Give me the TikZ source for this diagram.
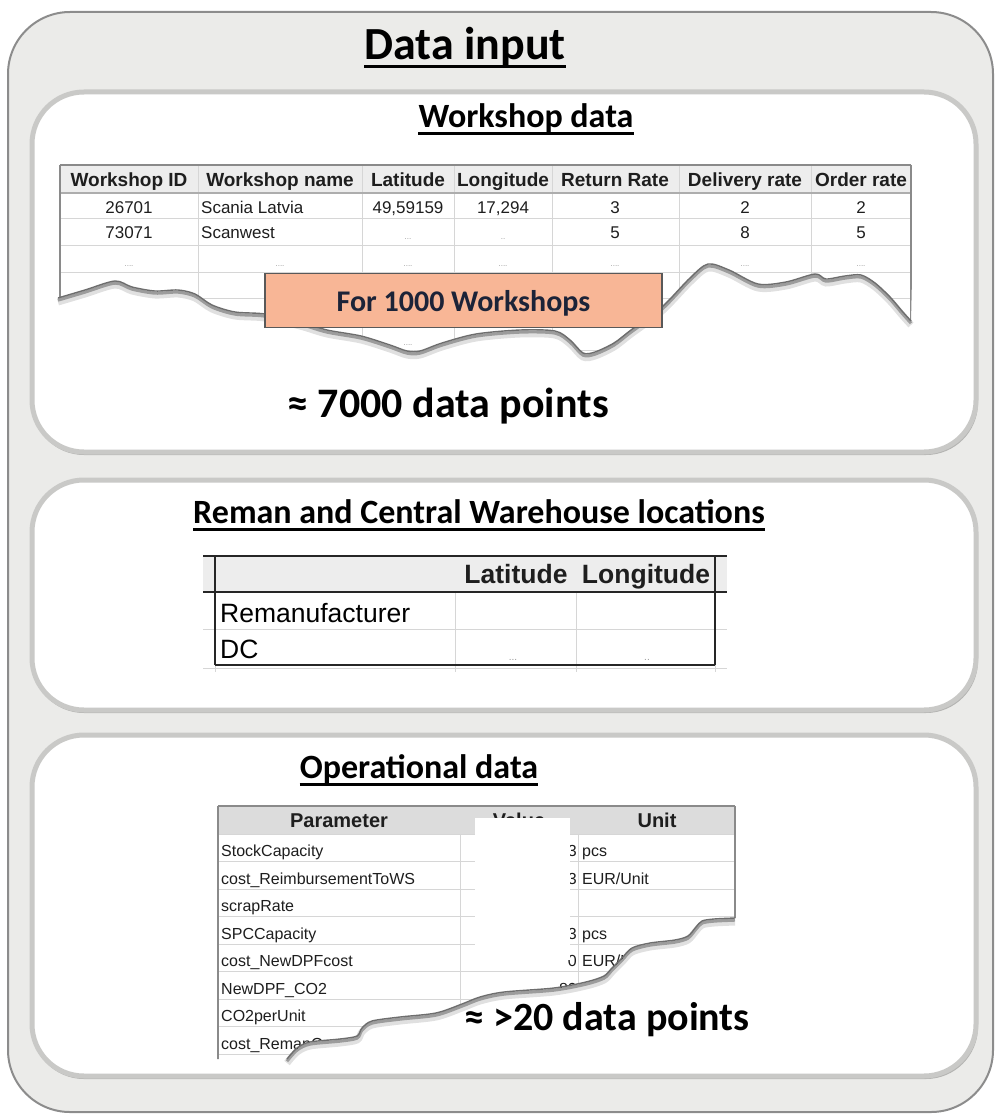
\documentclass[tikz,border=0pt]{standalone}
\usepackage{fontspec}
\setmainfont{Carlito}
\newfontfamily\arialf{Liberation Sans}
\usetikzlibrary{calc}

\definecolor{panelfill}{HTML}{EBEBE9}
\definecolor{panelrim}{HTML}{8C8C8C}
\definecolor{cardrim}{HTML}{C9C9C7}
\definecolor{cardshade}{HTML}{B4B4B2}
\definecolor{gridc}{HTML}{D6D6D6}
\definecolor{rulec}{HTML}{8A8A8A}
\definecolor{headA}{HTML}{EDEDED}
\definecolor{headC}{HTML}{DCDCDC}
\definecolor{salmon}{HTML}{F8B696}
\definecolor{inkblue}{HTML}{1C2338}
\definecolor{dotc}{HTML}{9A9A9A}
\definecolor{tearc}{HTML}{6E6E6E}
\definecolor{txt}{HTML}{1E1E1E}

% torn edge of the workshop table
\newcommand\tearA{plot[smooth,tension=0.5] coordinates {
 (58,298) (85,290) (115,281) (132,287) (155,291) (178,290) (195,294)
 (212,305) (235,312) (265,314) (300,322) (327,330) (361,336) (390,345)
 (407,351) (420,351) (442,343) (476,334) (520,330) (555,331) (570,340)
 (583,353) (595,352) (614,343) (631,330) (662,307) (690,278) (708,264)
 (729,270) (758,284) (786,282) (815,274) (826,279) (845,276) (861,275)
 (875,283) (890,297) (902,311) (911,321)}}
% torn edge of the operational table
\newcommand\tearC{plot[smooth,tension=0.5] coordinates {
 (287,1059) (297,1048) (310,1042) (340,1039) (357,1036) (362,1028)
 (372,1021) (400,1017) (436,1013) (462,1004) (480,997) (504,992)
 (554,988) (586,982) (604,976) (612,968) (622,958) (632,948) (650,943)
 (675,940) (688,936) (696,927) (702,921) (714,919) (735,918)}}

\begin{document}
\begin{tikzpicture}[x=1pt,y=-1pt,
  outerpanel/.style={draw=panelrim, line width=2, fill=panelfill, rounded corners=62},
  cardshadow/.style={fill=cardshade, rounded corners=52},
  card/.style={draw=cardrim, line width=5, fill=white, rounded corners=52},
  maintitle/.style={font=\fontsize{46}{54}\selectfont\bfseries, inner sep=0, anchor=base},
  subtitle/.style={font=\fontsize{34}{40}\selectfont\bfseries, inner sep=0, anchor=base},
  bigcount/.style={font=\fontsize{42}{50}\selectfont\bfseries, inner sep=0, anchor=base},
  uline/.style={line width=3},
  grid/.style={draw=gridc, line width=1},
  edge/.style={draw=rulec, line width=1.4},
  heavy/.style={draw=black!85, line width=2},
  thA/.style={font=\arialf\bfseries\fontsize{19}{22}\selectfont, text=txt, inner sep=0, anchor=base},
  tdA/.style={font=\arialf\fontsize{17}{20}\selectfont, text=txt, inner sep=0, anchor=base},
  dots/.style={font=\arialf\fontsize{8}{10}\selectfont, text=dotc, inner sep=0, anchor=base},
  thB/.style={font=\arialf\bfseries\fontsize{26.5}{30}\selectfont, text=txt, inner sep=0, anchor=base},
  tdB/.style={font=\arialf\fontsize{26.5}{30}\selectfont, text=black, inner sep=0, anchor=base west},
  thC/.style={font=\arialf\bfseries\fontsize{20}{24}\selectfont, text=txt, inner sep=0, anchor=base},
  tdC/.style={font=\arialf\fontsize{16}{19}\selectfont, text=txt, inner sep=0, anchor=base west},
  tdCr/.style={font=\arialf\fontsize{16}{19}\selectfont, text=txt, inner sep=0, anchor=base east},
  tearshade/.style={black, opacity=0.12, line width=7},
  tearshadeb/.style={black, opacity=0.3, line width=3},
  tearline/.style={tearc, line width=1.4},
]
\useasboundingbox (0,0) rectangle (1000,1115);

% ---------- outer panel ----------
\draw[outerpanel] (8,12) rectangle (993,1112);
\node[maintitle] (title) at (465,60) {Data input};
\draw[uline] ($(title.base west)+(0,7)$) -- ($(title.base east)+(0,7)$);

% ---------- three cards ----------
\fill[cardshadow] (32,95) rectangle (978,455);
\draw[card] (32,92) rectangle (976,452);
\fill[cardshadow] (32,483) rectangle (978,713);
\draw[card] (32,480) rectangle (976,710);
\fill[cardshadow] (32,738) rectangle (978,1079);
\draw[card] (32,735) rectangle (976,1076);

% ---------- workshop data ----------
\node[subtitle] (ws) at (526,128) {Workshop data};
\draw[uline] ($(ws.base west)+(0,6)$) -- ($(ws.base east)+(0,6)$);

\begin{scope}
  \clip \tearA -- (915,150) -- (54,150) -- cycle;
  \fill[headA] (60,165) rectangle (911,193);
  \foreach \yy in {219,245.5,272,298,324,350,376} \draw[grid] (60,\yy) -- (911,\yy);
  \foreach \xx in {198,362,454,552,679,811} \draw[grid] (\xx,165) -- (\xx,400);
  \draw[edge] (60,165) -- (911,165);
  \draw[draw=rulec!70, line width=1.4] (60,193) -- (911,193);
  \draw[edge] (60,165) -- (60,400);
  \draw[edge] (911,165) -- (911,400);
  % header
  \node[thA] (h1) at (129,187) {Workshop ID};
  \node[thA] (h2) at (280,187) {Workshop name};
  \node[thA] (h3) at (408,187) {Latitude};
  \node[thA] (h4) at (503,187) {Longitude};
  \node[thA] (h5) at (615,187) {Return Rate};
  \node[thA] (h6) at (745,187) {Delivery rate};
  \node[thA] (h7) at (861,187) {Order rate};
  % first row
  \node[tdA] (a1) at (129,214) {26701};
  \node[tdA, anchor=base west] (a2) at (201,214) {Scania Latvia};
  \node[tdA] (a3) at (408,214) {49,59159};
  \node[tdA] (a4) at (503,214) {17,294};
  \node[tdA] (a5) at (615,214) {3};
  \node[tdA] (a6) at (745,214) {2};
  \node[tdA] (a7) at (861,214) {2};
  % second row
  \node[tdA] (b1) at (129,239) {73071};
  \node[tdA, anchor=base west] (b2) at (201,239) {Scanwest};
  \node[dots] (b3) at (408,240) {...};
  \node[dots] (b4) at (503,240) {..};
  \node[tdA] (b5) at (615,239) {5};
  \node[tdA] (b6) at (745,239) {8};
  \node[tdA] (b7) at (861,239) {5};
  % third row
  \foreach \xx [count=\i] in {129,280,408,503,615,745,861}
    \node[dots] (c\i) at (\xx,266) {....};
  \node[dots] (d3) at (408,345) {....};
\end{scope}
\draw[tearshade, shift={(0,4)}] \tearA;
\draw[tearshadeb, shift={(0,2.2)}] \tearA;
\draw[tearline] \tearA;

\node[draw=black!65, line width=1.3, fill=salmon, minimum width=397, minimum height=54,
      inner sep=0] (count) at (463.5,300.5) {};
\node[font=\fontsize{30}{34}\selectfont\bfseries, text=inkblue, inner sep=0, anchor=base]
      (countlbl) at (463.5,311) {For 1000 Workshops};

\node[bigcount] (wspts) at (448,417) {≈ 7000 data points};

% ---------- locations ----------
\node[subtitle] (loc) at (479,523) {Reman and Central Warehouse locations};
\draw[uline] ($(loc.base west)+(0,6)$) -- ($(loc.base east)+(0,6)$);

\fill[headA] (203,556) rectangle (727,592);
\draw[grid] (455,592) -- (455,672);
\draw[grid] (576,592) -- (576,672);
\draw[grid] (203,629) -- (727,629);
\draw[grid] (203,668) -- (727,668);
\draw[grid] (215,665) -- (215,672);
\draw[grid] (715,665) -- (715,672);
\draw[heavy] (203,556) -- (727,556);
\draw[heavy] (203,592) -- (727,592);
\draw[heavy] (215,556) -- (215,665);
\draw[heavy] (715,556) -- (715,665);
\draw[heavy] (215,665) -- (715,665);
\node[thB] (lat) at (516,583) {Latitude};
\node[thB] (lon) at (646,583) {Longitude};
\node[tdB] (rm) at (220,622) {Remanufacturer};
\node[tdB] (dc) at (220,658) {DC};
\node[dots, font=\arialf\fontsize{10}{12}\selectfont] (dlat) at (513,660) {...};
\node[dots, font=\arialf\fontsize{10}{12}\selectfont] (dlon) at (647,660) {..};

% ---------- operational data ----------
\node[subtitle] (op) at (419,778) {Operational data};
\draw[uline] ($(op.base west)+(0,6)$) -- ($(op.base east)+(0,6)$);

\begin{scope}
  \clip \tearC -- (742,918) -- (742,798) -- (212,798) -- (212,1059) -- cycle;
  \fill[headC] (218,806) rectangle (735,834);
  \foreach \yy in {834,861.5,889,916.5,944,971.5,999,1026.5,1054}
    \draw[grid] (218,\yy) -- (735,\yy);
  \draw[grid] (460,834) -- (460,1060);
  \draw[grid] (578,834) -- (578,1060);
  \draw[edge] (218,806) -- (735,806);
  \draw[edge] (218,806) -- (218,1060);
  \draw[edge] (735,806) -- (735,1060);
  \node[thC] (par) at (339,827) {Parameter};
  \node[thC] (val) at (519,827) {Value};
  \node[thC] (unit) at (657,827) {Unit};
  \foreach \nm [count=\i] in {StockCapacity, cost\_ReimbursementToWS, scrapRate,
      SPCCapacity, cost\_NewDPFcost, NewDPF\_CO2, CO2perUnit, cost\_RemanCost}
    \node[tdC] (p\i) at (221,834+\i*27.5-5) {\nm};
  \node[tdCr] (v1) at (577,856.5) {3};
  \node[tdCr] (v2) at (577,884) {3};
  \node[tdCr] (v4) at (577,939) {3};
  \node[tdCr] (v5) at (577,966.5) {0};
  \node[tdCr] (v6) at (577,994) {80};
  \node[tdC] (u1) at (582,856.5) {pcs};
  \node[tdC] (u2) at (582,884) {EUR/Unit};
  \node[tdC] (u4) at (582,939) {pcs};
  \node[tdC] (u5) at (582,966.5) {EUR/Unit};
  \node[tdC] (u6) at (582,994) {kg};
  % masked value column
  \fill[white] (475,818) rectangle (570,960);
\end{scope}
\draw[tearshade, shift={(0,4)}] \tearC;
\draw[tearshadeb, shift={(0,2.2)}] \tearC;
\draw[tearline] \tearC;

\node[bigcount, font=\fontsize{40}{48}\selectfont\bfseries] (oppts) at (607,1030) {≈ >20 data points};
\end{tikzpicture}
\end{document}
